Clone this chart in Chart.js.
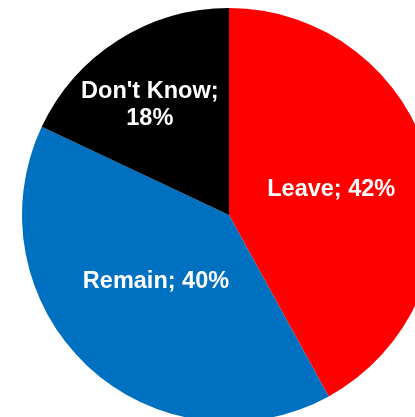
<!DOCTYPE html>
<html>
<head>
<meta charset="utf-8">
<script src="https://cdn.jsdelivr.net/npm/chart.js@4/dist/chart.umd.min.js"></script>
<style>
    html, body { margin: 0; padding: 0; background: #fff; overflow: hidden; width: 415px; height: 417px; }
    #wrap { position: absolute; left: 22px; top: 8px; width: 414px; height: 414px; }
</style>
</head>
<body>
<div id="wrap"><canvas id="pie" width="414" height="414"></canvas></div>
<script>
const categories = ['Leave', 'Remain', "Don't Know"];
const shares = [42, 40, 18];
const sliceColors = ['#FF0000', '#0070C0', '#000000'];

// label distance from the centre (fraction of radius) plus a small nudge in px
const labelRadius = [0.5, 0.48, 0.66];
const labelNudge = [[2, 0], [-5, -6], [-6, 5]];

// Draw "Name; 42%" labels inside each slice
const sliceLabels = {
    id: 'sliceLabels',
    afterDatasetsDraw(chart) {
        const ctx = chart.ctx;
        const meta = chart.getDatasetMeta(0);
        ctx.save();
        ctx.fillStyle = '#ffffff';
        ctx.font = 'bold 23.5px "Liberation Sans", Arial, sans-serif';
        ctx.textAlign = 'center';
        ctx.textBaseline = 'middle';
        meta.data.forEach((arc, i) => {
            const mid = (arc.startAngle + arc.endAngle) / 2;
            const r = arc.outerRadius * labelRadius[i];
            const x = arc.x + Math.cos(mid) * r + labelNudge[i][0];
            const y = arc.y + Math.sin(mid) * r + labelNudge[i][1];
            if (i === 2) {
                ctx.fillText(categories[i] + ';', x, y - 13.5);
                ctx.fillText(shares[i] + '%', x, y + 13.5);
            } else {
                ctx.fillText(categories[i] + '; ' + shares[i] + '%', x, y);
            }
        });
        ctx.restore();
    }
};

document.addEventListener('DOMContentLoaded', function() {
    const ctx = document.getElementById('pie').getContext('2d');
    new Chart(ctx, {
        type: 'pie',
        data: {
            labels: categories,
            datasets: [{
                data: shares,
                backgroundColor: sliceColors,
                borderWidth: 0
            }]
        },
        options: {
            responsive: false,
            animation: false,
            layout: { padding: 0 },
            plugins: {
                legend: { display: false },
                tooltip: { enabled: false }
            }
        },
        plugins: [sliceLabels]
    });
});
</script>
</body>
</html>
